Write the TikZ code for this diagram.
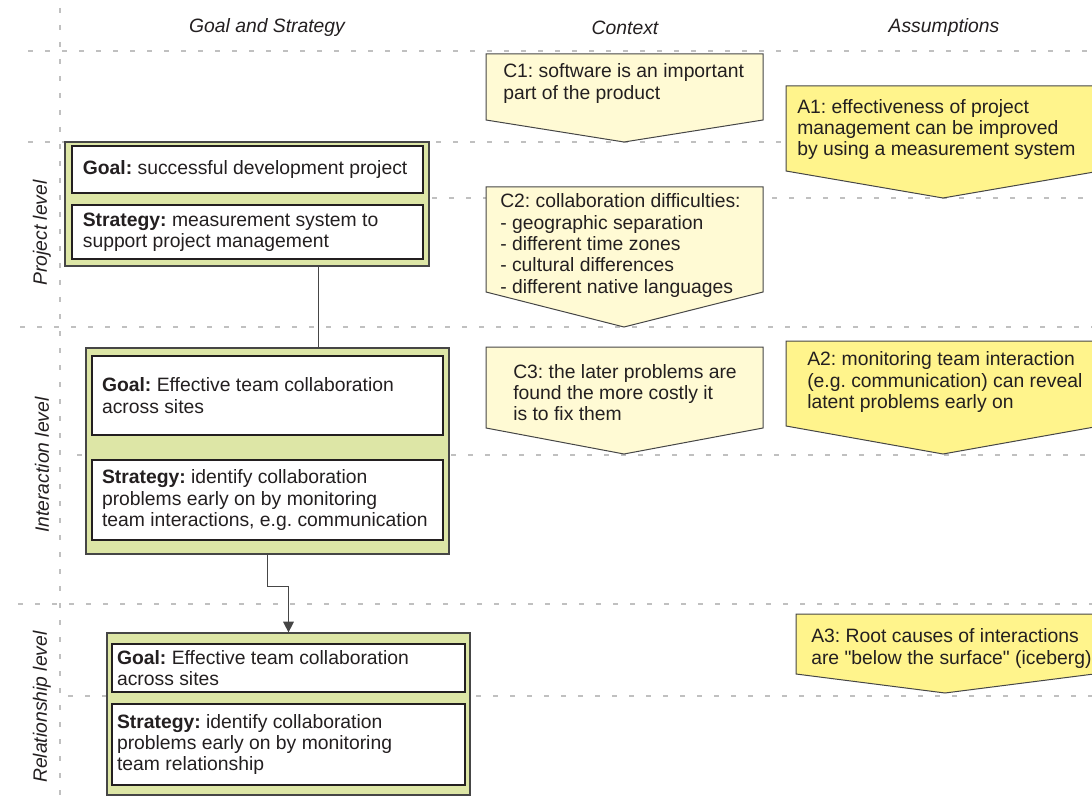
\documentclass[tikz,border=0pt]{standalone}
\usepackage{fontspec}
\setmainfont{Liberation Sans}[Ligatures=TeXOff]
\usetikzlibrary{arrows.meta}

\definecolor{levelgreen}{RGB}{221,230,166}
\definecolor{ctxyellow}{RGB}{255,250,212}
\definecolor{asmyellow}{RGB}{255,244,140}
\definecolor{gridgrey}{RGB}{192,192,192}
\definecolor{edgegrey}{RGB}{70,70,70}
\definecolor{inkgrey}{RGB}{35,31,32}

\begin{document}
\frenchspacing
\begin{tikzpicture}[x=0.75pt,y=0.75pt,yscale=-1,xscale=1,
  every node/.style={font=\fontsize{14.5}{16}\selectfont, text=inkgrey},
  gridline/.style={draw=gridgrey, line width=1.5pt, dash pattern=on 3.5pt off 9.25pt},
  levelbox/.style={draw=edgegrey, fill=levelgreen, line width=0.9pt, inner sep=0pt},
  itembox/.style={draw=inkgrey, fill=white, line width=0.8pt, align=flush left, minimum height=#1},
  ctxshape/.style={draw=edgegrey, fill=ctxyellow, line width=0.75pt},
  asmshape/.style={draw=edgegrey, fill=asmyellow, line width=0.75pt},
  shapetext/.style={anchor=west, align=left, inner sep=0pt},
  headtext/.style={font=\fontsize{14.5}{16}\selectfont\itshape},
  link/.style={draw=edgegrey, line width=0.75pt}
]
\useasboundingbox (0,0) rectangle (1092,809);

%Grid Lines
\draw [gridline] (60,8) -- (60,800) ;
\draw [gridline] (28,51) -- (1092,51) ;
\draw [gridline] (28,142) -- (1092,142) ;
\draw [gridline] (432,198) -- (1092,198) ;
\draw [gridline] (20,327) -- (1092,327) ;
\draw [gridline] (77,455) -- (1092,455) ;
\draw [gridline] (18,604) -- (1092,604) ;
\draw [gridline] (68,696) -- (1092,696) ;

% Text Node
\draw (267,28) node [headtext] (hgoal) {Goal and Strategy};
% Text Node
\draw (625,28) node [headtext] (hctx) {Context};
% Text Node
\draw (944,28) node [headtext] (hasm) {Assumptions};
% Text Node
\draw (42,233) node [headtext, rotate=90] (lproj) {Project level};
% Text Node
\draw (42,465) node [headtext, rotate=90] (linter) {Interaction level};
% Text Node
\draw (42,707) node [headtext, rotate=90] (lrel) {Relationship level};

%Shape: Level Boxes
\node [levelbox, minimum width=273pt, minimum height=93pt] (proj) at (247,204) {};
\node [levelbox, minimum width=272.25pt, minimum height=154.5pt] (inter) at (267.5,451) {};
\node [levelbox, minimum width=272.25pt, minimum height=121.5pt] (rel) at (288.5,714) {};

%Shape: Goal and Strategy Boxes
\node [itembox=35.25pt, text width=247pt, inner xsep=8.13pt] (pgoal) at (247.5,169.5)
  {\textbf{Goal:} successful development project};
\node [itembox=40.5pt, text width=247pt, inner xsep=8.13pt] (pstrat) at (247.5,232)
  {\textbf{Strategy:} measurement system to\\support project management};
\node [itembox=59.25pt, text width=248.25pt, inner xsep=7.5pt] (igoal) at (267.5,395.5)
  {\textbf{Goal:} Effective team collaboration\\across sites};
\node [itembox=60pt, text width=248.25pt, inner xsep=7.5pt] (istrat) at (267.5,500)
  {\textbf{Strategy:} identify collaboration\\problems early on by monitoring\\team interactions, e.g. communication};
\node [itembox=36pt, text width=257.25pt, inner xsep=3.75pt] (rgoal) at (288.5,668)
  {\textbf{Goal:} Effective team collaboration\\across sites};
\node [itembox=60.75pt, text width=257.25pt, inner xsep=3.75pt] (rstrat) at (288.5,744.5)
  {\textbf{Strategy:} identify collaboration\\problems early on by monitoring\\team relationship};

%Connectors
\draw [link] ([xshift=53.25pt]proj.south) -- ([xshift=53.25pt]proj.south |- inter.north) ;
\draw [link, -{Triangle[length=8pt,width=8pt]}] (inter.south) -- ++(0,32) -| (rel.north) ;

%Shape: Context Pentagons
\draw [ctxshape] (486,54) -- (763,54) -- (763,120) -- (624,142) -- (486,120) -- cycle ;
\draw [ctxshape] (486,187) -- (763,187) -- (763,292) -- (624,327) -- (486,292) -- cycle ;
\draw [ctxshape] (486,347) -- (763,347) -- (763,428) -- (624,454) -- (486,428) -- cycle ;

%Shape: Assumption Pentagons
\draw [asmshape] (786,86) -- (1100,86) -- (1100,171) -- (943,198) -- (786,171) -- cycle ;
\draw [asmshape] (786,341) -- (1100,341) -- (1100,426) -- (943,454) -- (786,426) -- cycle ;
\draw [asmshape] (796,614) -- (1094,614) -- (1094,674) -- (945,693) -- (796,674) -- cycle ;

% Text Node
\draw (503,83.5) node [shapetext] (c1) {C1: software is an important\\part of the product};
% Text Node
\draw (500,245.5) node [shapetext] (c2) {C2: collaboration difficulties:\\- geographic separation\\- different time zones\\- cultural differences\\- different native languages};
% Text Node
\draw (513,392.5) node [shapetext] (c3) {C3: the later problems are\\found the more costly it\\is to fix them};
% Text Node
\draw (797,129.5) node [shapetext] (a1) {A1: effectiveness of project\\management can be improved\\by using a measurement system};
% Text Node
\draw (807,382) node [shapetext] (a2) {A2: monitoring team interaction\\(e.g. communication) can reveal\\latent problems early on};
% Text Node
\draw (811,648.5) node [shapetext] (a3) {A3: Root causes of interactions\\are "below the surface" (iceberg)};

\end{tikzpicture}
\end{document}
